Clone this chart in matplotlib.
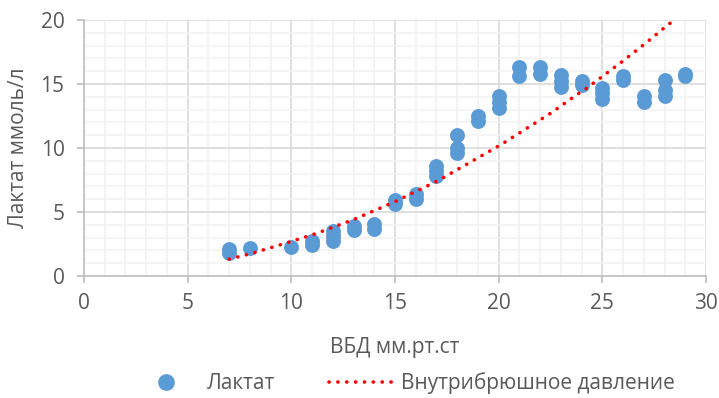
import numpy as np
import matplotlib
matplotlib.use("Agg")
import matplotlib.pyplot as plt
from matplotlib.ticker import MultipleLocator
from matplotlib.lines import Line2D

plt.rcParams['font.family'] = ['Open Sans', 'DejaVu Sans']

# Lactate measurements, grouped by IAP value
vbd = [7, 7, 8, 10, 11, 11, 12, 12, 12, 13, 13, 14, 14, 15, 15, 16, 16,
       17, 17, 17, 18, 18, 18, 19, 19, 20, 20, 20, 21, 21, 22, 22,
       23, 23, 23, 24, 24, 25, 25, 25, 26, 26, 27, 27, 28, 28, 28, 29, 29]
lactate = [1.8, 2.1, 2.2, 2.3, 2.4, 2.7, 2.7, 3.1, 3.5, 3.6, 3.9, 3.7, 4.1, 5.6, 5.9, 6.0, 6.4,
           7.8, 8.2, 8.6, 9.6, 10.0, 11.0, 12.1, 12.5, 13.1, 13.6, 14.1, 15.6, 16.3, 15.8, 16.3,
           14.8, 15.2, 15.7, 14.9, 15.2, 13.8, 14.3, 14.7, 15.3, 15.6, 13.6, 14.1, 14.1, 14.5, 15.3, 15.6, 15.8]

# trendline
trend_x = [7.0, 8.1, 9.9, 11.2, 13.0, 15.0, 17.1, 20.1, 22.5, 23.8, 24.1, 25.9, 27.1, 28.2, 28.5]
trend_y = [1.32, 1.77, 2.65, 3.32, 4.41, 5.81, 7.47, 10.25, 12.71, 14.2, 14.5, 16.68, 18.2, 19.67, 20.0]

txt = '#595959'
blue = '#5B9BD5'

fig = plt.figure(figsize=(7.19, 3.98), dpi=100)
ax = fig.add_axes([84 / 719, 1 - 276 / 398, 622 / 719, 256 / 398])

ax.scatter(vbd, lactate, s=115, color=blue, zorder=3, linewidths=0)
ax.plot(trend_x, trend_y, color='#FF0000', linewidth=2.6,
        linestyle=(0, (0.05, 2.4)), dash_capstyle='round', zorder=4)

ax.set_xlim(0, 30)
ax.set_ylim(0, 20)
ax.xaxis.set_major_locator(MultipleLocator(5))
ax.yaxis.set_major_locator(MultipleLocator(5))
ax.xaxis.set_minor_locator(MultipleLocator(1))
ax.yaxis.set_minor_locator(MultipleLocator(1))
ax.grid(which='minor', color='#F2F2F2', linewidth=1.2, zorder=0)
ax.grid(which='major', color='#D9D9D9', linewidth=1.2, zorder=1)
ax.set_axisbelow(True)

for s in ['top', 'right']:
    ax.spines[s].set_visible(False)
for s in ['left', 'bottom']:
    ax.spines[s].set_color('#BFBFBF')
    ax.spines[s].set_linewidth(1.2)

ax.tick_params(which='major', length=5, color='#BFBFBF', width=1.2,
               labelsize=15, labelcolor=txt)
ax.tick_params(which='minor', length=0)
ax.tick_params(axis='x', pad=7)
ax.tick_params(axis='y', pad=9)

ax.set_xlabel('ВБД мм.рт.ст', fontsize=15, color=txt, labelpad=17)
ax.set_ylabel('Лактат ммоль/л', fontsize=15, color=txt, labelpad=8)

handles = [
    Line2D([0], [0], linestyle='none', marker='o', markersize=11,
           markerfacecolor=blue, markeredgecolor=blue, label='Лактат'),
    Line2D([0], [0], color='#FF0000', linewidth=2.6, linestyle=(0, (0.05, 2.4)),
           dash_capstyle='round', label='Внутрибрюшное давление'),
]
fig.legend(handles=handles, loc='center', bbox_to_anchor=(405 / 719, 1 - 383 / 398),
           ncol=2, frameon=False, fontsize=15, labelcolor=txt,
           handlelength=3.0, handletextpad=0.45, columnspacing=2.6)

fig.savefig('out.png', dpi=100)
